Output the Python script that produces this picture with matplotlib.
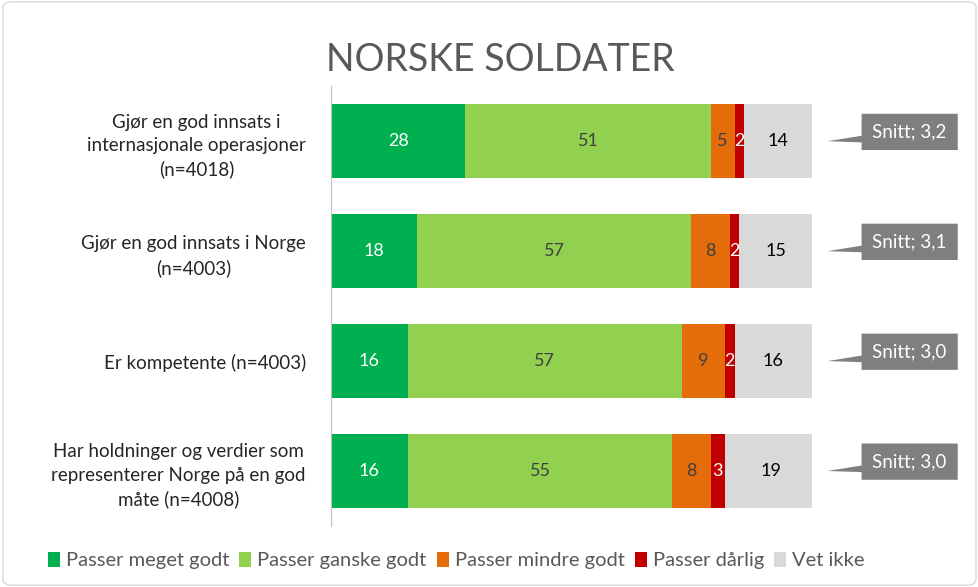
import matplotlib.pyplot as plt
from matplotlib.patches import Polygon, FancyBboxPatch
import numpy as np

plt.rcParams['font.family'] = ['Lato', 'DejaVu Sans']

# data
questions = ['Gjør en god innsats i\ninternasjonale operasjoner\n(n=4018)',
             'Gjør en god innsats i Norge\n(n=4003)',
             'Er kompetente (n=4003)',
             'Har holdninger og verdier som\nrepresenterer Norge på en god\nmåte (n=4008)']
categories = ['Passer meget godt', 'Passer ganske godt', 'Passer mindre godt',
              'Passer dårlig', 'Vet ikke']
meget_godt = [28, 18, 16, 16]
ganske_godt = [51, 57, 57, 55]
mindre_godt = [5, 8, 9, 8]
darlig = [2, 2, 2, 3]
vet_ikke = [14, 15, 16, 19]
snitt = ['3,2', '3,1', '3,0', '3,0']

series = [meget_godt, ganske_godt, mindre_godt, darlig, vet_ikke]
colors = ['#00B050', '#92D050', '#E46C0A', '#C00000', '#D9D9D9']
text_colors = ['white', '#404040', '#404040', 'white', 'black']

fig = plt.figure(figsize=(9.79, 5.87), dpi=100)
ax = fig.add_axes([0.338, 0.104, 0.491, 0.749])

y = np.arange(len(questions))
left = np.zeros(len(questions))
for vals, col, tcol, name in zip(series, colors, text_colors, categories):
    vals = np.array(vals)
    ax.barh(y, vals, left=left, color=col, height=0.67, label=name)
    for yi, v, l in zip(y, vals, left):
        ax.text(l + v / 2, yi, str(v), ha='center', va='center',
                color=tcol, fontsize=13)
    left += vals

# callouts with average
for yi, s in zip(y, snitt):
    x0, x1 = 110.4, 130.4
    yt, yb = yi - 0.25, yi + 0.08
    box = Polygon([(x0, yt), (x1, yt), (x1, yb), (x0, yb),
                   (x0, yi + 0.01), (103.3, yi), (x0, yi - 0.05)],
                  closed=True, facecolor='#7F7F7F', edgecolor='none',
                  clip_on=False)
    ax.add_patch(box)
    ax.text((x0 + x1) / 2, (yt + yb) / 2, 'Snitt; ' + s, ha='center',
            va='center', color='white', fontsize=13.5)

ax.set_xlim(0, 100)
ax.set_ylim(3.5, -0.5)
ax.set_yticks(y)
ax.set_yticklabels(questions, multialignment='center', fontsize=13.5,
                   color='#262626', linespacing=1.45)
ax.tick_params(axis='y', length=0, pad=18)
ax.set_xticks([])
for sp in ['top', 'right', 'bottom']:
    ax.spines[sp].set_visible(False)
ax.spines['left'].set_color('#BFBFBF')

fig.text(0.511, 0.898, 'NORSKE SOLDATER', ha='center', va='center',
         fontsize=27, color='#595959')

ax.legend(loc='center', bbox_to_anchor=(0.466, 0.045),
          bbox_transform=fig.transFigure, ncol=5, frameon=False,
          fontsize=14.5, handlelength=0.6, handleheight=0.8,
          handletextpad=0.3, columnspacing=0.5, labelcolor='#595959')

fig.patches.append(FancyBboxPatch((0.003, 0.003), 0.994, 0.994,
                                  boxstyle='round,pad=0,rounding_size=0.01',
                                  transform=fig.transFigure, fill=False,
                                  edgecolor='#D9D9D9', linewidth=1))

plt.savefig('out.png', dpi=100)
